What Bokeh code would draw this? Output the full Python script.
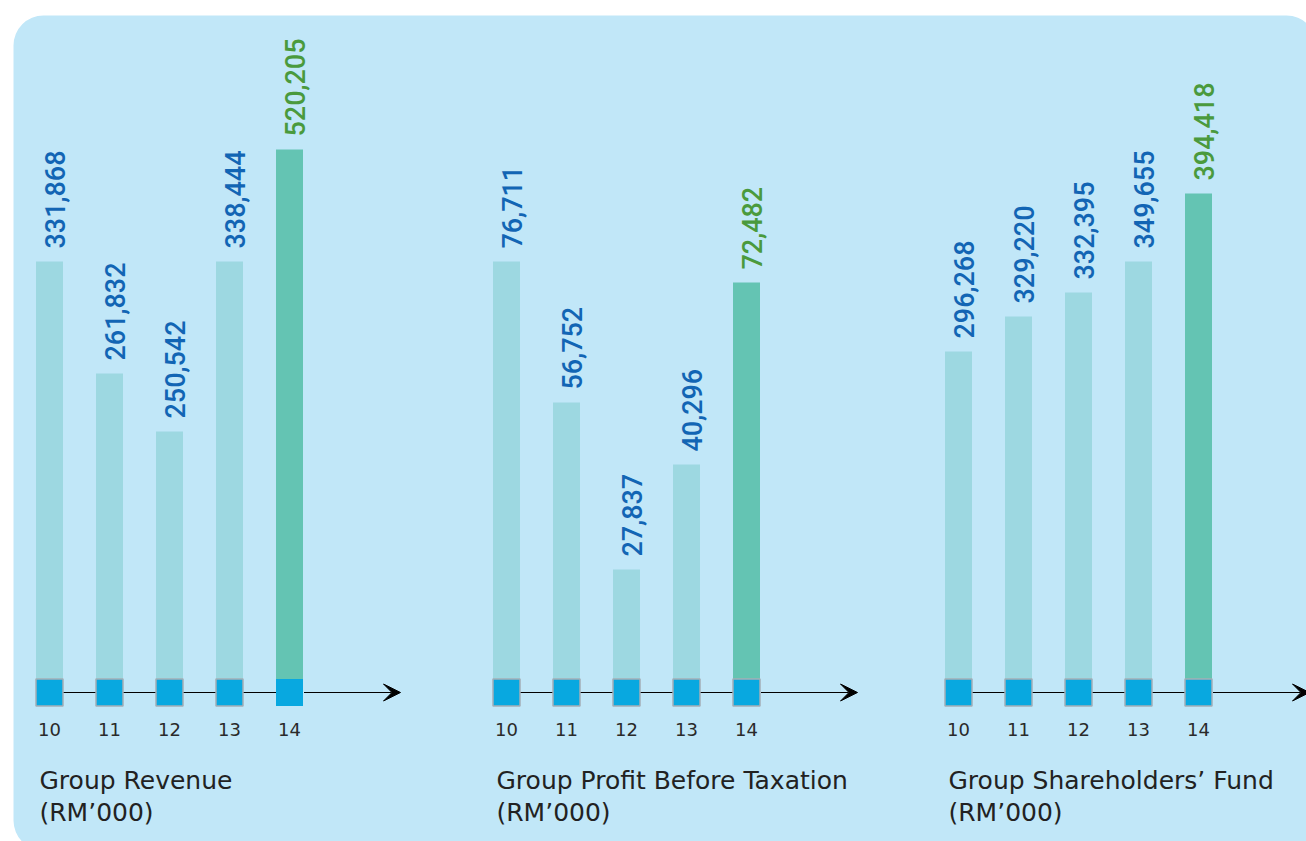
import math
from bokeh.plotting import figure
from bokeh.models import Range1d, BoxAnnotation, Arrow, VeeHead, ColumnDataSource
from bokeh.core.properties import value
from bokeh.embed import file_html
from bokeh.resources import INLINE

# ---------------- data ----------------
years = ["10", "11", "12", "13", "14"]
titles = ["Group Revenue", "Group Profit Before Taxation", "Group Shareholders\u2019 Fund"]
unit_label = "(RM\u2019000)"
revenue = [331868, 261832, 250542, 338444, 520205]
profit = [76711, 56752, 27837, 40296, 72482]
shareholders = [296268, 329220, 332395, 349655, 394418]
# drawn (illustrative) bar heights as they appear in the picture
revenue_bar = [431, 319, 261, 431, 543]
profit_bar = [431, 290, 123, 228, 410]
shareholders_bar = [341, 376, 400, 431, 499]

series_values = [revenue, profit, shareholders]
series_bars = [revenue_bar, profit_bar, shareholders_bar]

# ---------------- layout / style ----------------
W, H = 1306, 841
panel_x0 = [49, 506, 958]
bar_gap = 60
base_y = 149
bar_w = 27
arrow_len = 351
label_gap = 13

BG = "#C1E7F8"
BAR_LIGHT = "#9DD8E1"
BAR_GREEN = "#64C4B3"
SQUARE = "#08A8E0"
SQUARE_EDGE = "#A4AEB6"
LBL_BLUE = "#1265B4"
LBL_GREEN = "#4A9A3D"
LABEL_FONT = value("Roboto Medium")
TITLE_FONT = value("DejaVu Sans")

p = figure(width=W, height=H, x_range=Range1d(0, W), y_range=Range1d(0, H),
           output_backend="svg", toolbar_location=None, min_border=0,
           x_axis_type=None, y_axis_type=None,
           background_fill_color="white", border_fill_color="white",
           outline_line_color=None)
p.grid.visible = False

p.add_layout(BoxAnnotation(left=13, right=1316, bottom=-9, top=H - 15,
                           fill_color=BG, fill_alpha=1.0, line_alpha=0,
                           border_radius=30, level="underlay"))

for k in range(3):
    xs = [panel_x0[k] + bar_gap * i for i in range(len(years))]
    vals = series_values[k]
    hts = series_bars[k]
    tops = [base_y + h for h in hts]
    n = len(years)
    bar_colors = [BAR_LIGHT] * (n - 1) + [BAR_GREEN]
    lbl_colors = [LBL_BLUE] * (n - 1) + [LBL_GREEN]
    edge_alpha = [1.0] * n
    if k == 0:
        edge_alpha[-1] = 0.0
    src = ColumnDataSource(dict(x=xs, top=tops, bar_color=bar_colors,
                                lx=[x + 5 for x in xs], ly=[t + label_gap for t in tops],
                                label=[f"{v:,}" for v in vals],
                                lbl_color=lbl_colors, year=years,
                                edge_alpha=edge_alpha))
    p.vbar(x="x", bottom=base_y, top="top", width=bar_w, fill_color="bar_color",
           line_color=None, source=src)
    # value labels
    p.text(x="lx", y="ly", text="label", angle=math.pi / 2,
           text_align="left", text_baseline="middle", text_color="lbl_color",
           text_font=LABEL_FONT, text_font_size="27px", source=src)
    # axis line (under the squares) and arrow head
    p.segment(x0=[xs[0]], y0=[base_y], x1=[xs[-1]], y1=[base_y], line_color="black", line_width=1.2)
    p.add_layout(Arrow(end=VeeHead(size=17, fill_color="black", line_color="black", line_width=1),
                       x_start=xs[-1] + bar_w / 2 + 1, y_start=base_y,
                       x_end=xs[0] + arrow_len, y_end=base_y,
                       line_color="black", line_width=1.2))
    # squares on the axis
    p.rect(x="x", y=base_y, width=27, height=27, width_units="screen", height_units="screen",
           fill_color=SQUARE, line_color=SQUARE_EDGE, line_alpha="edge_alpha", line_width=1.5,
           source=src)
    # year labels
    p.text(x="x", y=112, text="year", text_align="center", text_baseline="middle",
           text_color="#2a2a2a", text_font=value("DejaVu Sans"), text_font_size="18px",
           source=src)
    # titles
    p.text(x=[xs[0] - 10], y=[61], text=[titles[k]], text_align="left",
           text_baseline="alphabetic", text_color="#222222",
           text_font=TITLE_FONT, text_font_size="25px")
    p.text(x=[xs[0] - 10], y=[29], text=[unit_label], text_align="left",
           text_baseline="alphabetic", text_color="#222222",
           text_font=TITLE_FONT, text_font_size="25px")

open("out.html", "w").write(file_html(p, INLINE))
